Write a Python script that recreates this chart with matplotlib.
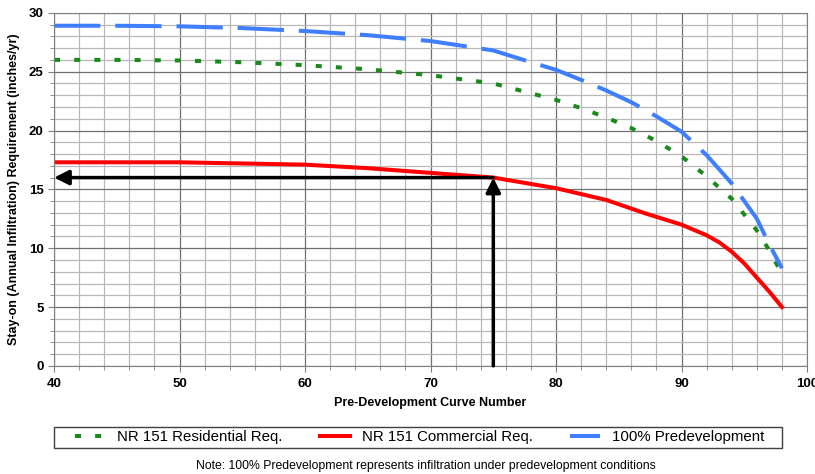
import matplotlib
matplotlib.use("Agg")
import matplotlib.pyplot as plt
from matplotlib.patches import Rectangle
from matplotlib.ticker import MultipleLocator

# curve numbers and stay-on requirements
cn_res = [40, 45, 50, 55, 60, 65, 70, 75, 80, 82, 84, 86, 88, 90, 92, 94, 96, 97, 98]
residential = [26.0, 26.0, 25.95, 25.8, 25.55, 25.2, 24.7, 24.0, 22.6, 21.9, 21.1,
               20.2, 19.1, 17.8, 16.1, 14.2, 11.5, 9.8, 7.8]

cn_com = [40, 45, 50, 55, 60, 65, 70, 75, 80, 84, 87, 90, 92, 93, 94, 95, 96, 97, 98]
commercial = [17.3, 17.3, 17.3, 17.2, 17.1, 16.8, 16.4, 16.0, 15.1, 14.1, 13.0,
              12.0, 11.1, 10.5, 9.7, 8.7, 7.5, 6.3, 5.0]

cn_pre = [40, 45, 50, 55, 60, 65, 70, 75, 78, 80, 82, 84, 86, 88, 90, 92, 94, 96, 97, 98]
predev = [28.9, 28.9, 28.85, 28.7, 28.45, 28.1, 27.6, 26.8, 25.8, 25.15, 24.3, 23.4,
          22.4, 21.2, 19.9, 17.9, 15.5, 12.5, 10.3, 8.3]

# example lookup shown with arrows
arrow_cn = 75
arrow_req = 16.0

narrow = ['Liberation Sans Narrow', 'Liberation Sans', 'DejaVu Sans']
plain = ['Liberation Sans', 'DejaVu Sans']

fig = plt.figure(figsize=(8.15, 4.74), dpi=100)
ax = fig.add_axes([0.0663, 0.228, 0.924, 0.745])

ax.plot(cn_res, residential, color='#1a8a1a', lw=2.9, dashes=(1.5, 3.5),
        solid_capstyle='butt', label='NR 151 Residential Req.')
ax.plot(cn_com, commercial, color='#ff0000', lw=2.9, label='NR 151 Commercial Req.')
ax.plot(cn_pre, predev, color='#3f7fff', lw=2.9, dashes=(11.5, 3.7),
        label='100% Predevelopment')

ax.annotate('', xy=(40, arrow_req), xytext=(arrow_cn, arrow_req),
            arrowprops=dict(arrowstyle='-|>', color='black', lw=2.5,
                            mutation_scale=22, shrinkA=0, shrinkB=0))
ax.annotate('', xy=(arrow_cn, arrow_req), xytext=(arrow_cn, 0),
            arrowprops=dict(arrowstyle='-|>', color='black', lw=2.5,
                            mutation_scale=22, shrinkA=0, shrinkB=0))

ax.set_xlim(40, 100)
ax.set_ylim(0, 30)
ax.xaxis.set_major_locator(MultipleLocator(10))
ax.xaxis.set_minor_locator(MultipleLocator(2))
ax.yaxis.set_major_locator(MultipleLocator(5))
ax.yaxis.set_minor_locator(MultipleLocator(1))
ax.grid(which='major', color='#707070', lw=0.9)
ax.grid(which='minor', color='#b8b8b8', lw=0.9)
ax.set_axisbelow(True)
for s in ax.spines.values():
    s.set_color('#808080')
ax.tick_params(which='both', direction='out', color='#808080', length=4)
ax.tick_params(which='minor', length=3)

for lab in ax.get_xticklabels() + ax.get_yticklabels():
    lab.set_fontfamily(narrow)
    lab.set_fontweight('bold')
    lab.set_fontsize(9.5)
ax.tick_params(axis='x', pad=5)

ax.set_xlabel('Pre-Development Curve Number', family=narrow, fontweight='bold',
              fontsize=9, labelpad=5)
ax.set_ylabel('Stay-on (Annual Infiltration) Requirement (inches/yr)', family=narrow,
              fontweight='bold', fontsize=9, labelpad=6)

# legend without its own frame; the box is drawn separately to match the wide Excel box
leg = fig.legend(loc='center left', bbox_to_anchor=(0.092, 0.0776), ncol=3,
                 prop={'family': plain, 'size': 10.8}, frameon=False,
                 handlelength=2.0, handletextpad=0.8, columnspacing=2.5,
                 borderpad=0, borderaxespad=0)
fig.patches.append(Rectangle((0.0663, 0.0555), 0.8933, 0.0443, transform=fig.transFigure,
                             fill=False, edgecolor='#404040', lw=1.0))

fig.text(0.522, 0.017, 'Note: 100% Predevelopment represents infiltration under predevelopment conditions',
         ha='center', va='center', family=narrow, fontsize=8.8)

fig.savefig('out.png', dpi=100)
